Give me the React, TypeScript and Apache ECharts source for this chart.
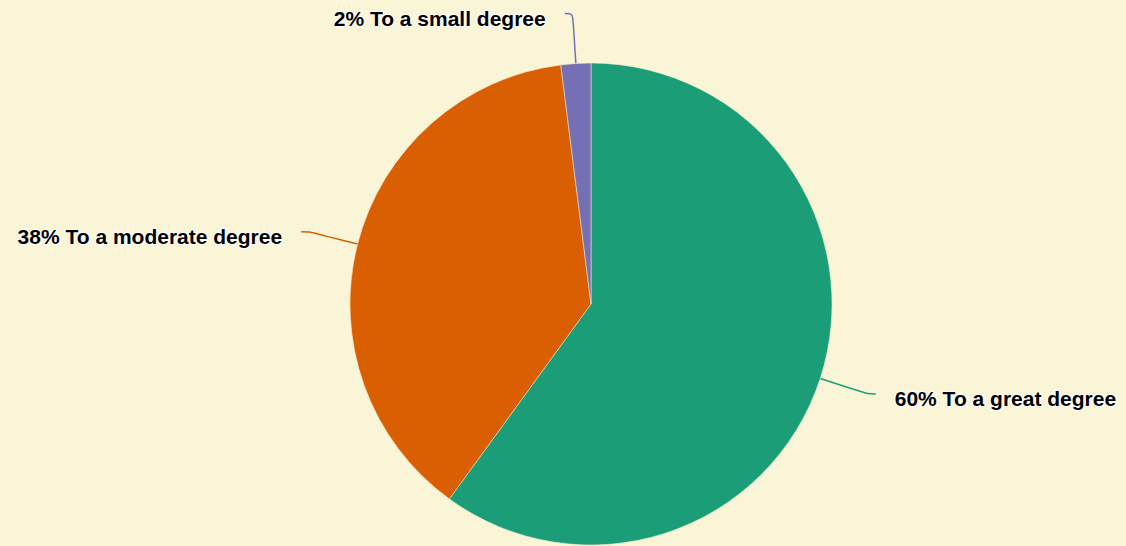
import React, { useEffect, useRef } from "react";
import * as echarts from "echarts";

const categories = ["To a great degree", "To a moderate degree", "To a small degree"];
const values = [60, 38, 2];
const colors = ["#1B9E77", "#D95F02", "#7570B3"];

export default function App() {
  const ref = useRef<HTMLDivElement>(null);
  useEffect(() => {
    const chart = echarts.init(ref.current!, undefined, { renderer: "svg" });
    chart.setOption({
      animation: false,
      backgroundColor: "#FAF5D7",
      series: [
        {
          type: "pie",
          center: [591, 304],
          radius: 241,
          startAngle: 90,
          clockwise: true,
          data: categories.map((c, i) => ({
            name: c,
            value: values[i],
            itemStyle: { color: colors[i] },
            labelLine: { lineStyle: { color: colors[i] } },
          })),
          itemStyle: { borderColor: "#FAF5D7", borderWidth: 0.5 },
          label: {
            formatter: (p: any) => `${p.value}% ${p.name}`,
            fontFamily: "Liberation Sans, Arial, sans-serif",
            fontWeight: "bold",
            fontSize: 21,
            color: "#000",
            textBorderColor: "#fff",
            textBorderWidth: 2,
            distanceToLabelLine: 19,
            overflow: "none",
          },
          labelLayout: { dy: 5 },
          labelLine: { show: true, length: 50, length2: 8, smooth: true, lineStyle: { width: 1.5 } },
        },
      ],
    });
    return () => chart.dispose();
  }, []);
  return <div ref={ref} style={{ position: "fixed", left: 0, top: 0, width: 1126, height: 546 }} />;
}
